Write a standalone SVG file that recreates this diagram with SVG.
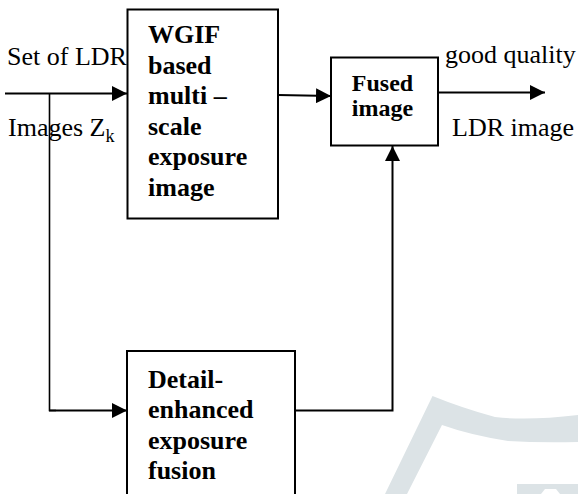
<svg xmlns="http://www.w3.org/2000/svg" width="578" height="494" viewBox="0 0 578 494">
  <style>
    .box { fill: #ffffff; stroke: #000000; stroke-width: 2; }
    .wire { fill: none; stroke: #000000; stroke-width: 2; }
    .thin { fill: none; stroke: #000000; stroke-width: 1.6; }
    text { font-family: 'Liberation Serif', 'Times New Roman', Times, 'DejaVu Serif', serif; fill: #000000; }
    .lbl { font-size: 26px; }
    .blk { font-size: 26px; font-weight: bold; }
    .blk-sm { font-size: 24px; font-weight: bold; }
    .mark { fill: #dce3e6; stroke: none; }
  </style>
  <defs>
    <marker id="head" markerUnits="userSpaceOnUse" markerWidth="15" markerHeight="15" refX="15" refY="7.5" orient="auto">
      <path d="M0,0 L15,7.5 L0,15 Z" fill="#000000"/>
    </marker>
  </defs>

  <rect width="578" height="494" fill="#ffffff"/>

  <!-- faint background emblem, lower right -->
  <g id="emblem">
    <path class="mark" d="M385,494 L432.5,396 Q462,408 495,417 Q528,421 578,415 L578,442 Q540,443 508,441 Q470,435 442,425 L407,494 Z"/>
    <path class="mark" d="M517,484 L578,484 L578,494 L560,494 L556,489 L545,489 L541,494 L517,494 Z"/>
  </g>

  <!-- side labels -->
  <g id="labels">
    <text class="lbl" x="7" y="65">Set of LDR</text>
    <text class="lbl" x="8" y="136">Images Z<tspan font-size="18" dy="6">k</tspan></text>
    <text class="lbl" x="445" y="63">good quality</text>
    <text class="lbl" x="452" y="136">LDR image</text>
  </g>

  <g id="connectors">
    <line class="wire" x1="5" y1="93.5" x2="127" y2="93.5" marker-end="url(#head)"/>
    <polyline class="thin" points="49.5,93.5 49.5,410.5 56,410.5"/>
    <line class="wire" x1="49" y1="410.5" x2="127" y2="410.5" marker-end="url(#head)"/>
    <line class="wire" x1="278" y1="95" x2="331" y2="96" marker-end="url(#head)"/>
    <line class="wire" x1="438" y1="92.5" x2="545" y2="92.5" marker-end="url(#head)"/>
    <polyline class="wire" points="295,410.5 392.5,410.5 392.5,146" marker-end="url(#head)"/>
  </g>

  <g id="wgif">
    <rect class="box" x="127.5" y="9.5" width="150.5" height="209"/>
    <text class="blk" x="148" y="43">WGIF</text>
    <text class="blk" x="148" y="73.5">based</text>
    <text class="blk" x="148" y="104">multi –</text>
    <text class="blk" x="148" y="134.5">scale</text>
    <text class="blk" x="148" y="165">exposure</text>
    <text class="blk" x="148" y="195.5">image</text>
  </g>

  <g id="fused">
    <rect class="box" x="331" y="57.5" width="107" height="88"/>
    <text class="blk-sm" x="382.5" y="91" text-anchor="middle">Fused</text>
    <text class="blk-sm" x="382.5" y="116" text-anchor="middle">image</text>
  </g>

  <g id="detail">
    <rect class="box" x="127" y="351" width="168" height="160"/>
    <text class="blk" x="148" y="388">Detail-</text>
    <text class="blk" x="148" y="418">enhanced</text>
    <text class="blk" x="148" y="448.5">exposure</text>
    <text class="blk" x="148" y="478.5">fusion</text>
  </g>
</svg>
